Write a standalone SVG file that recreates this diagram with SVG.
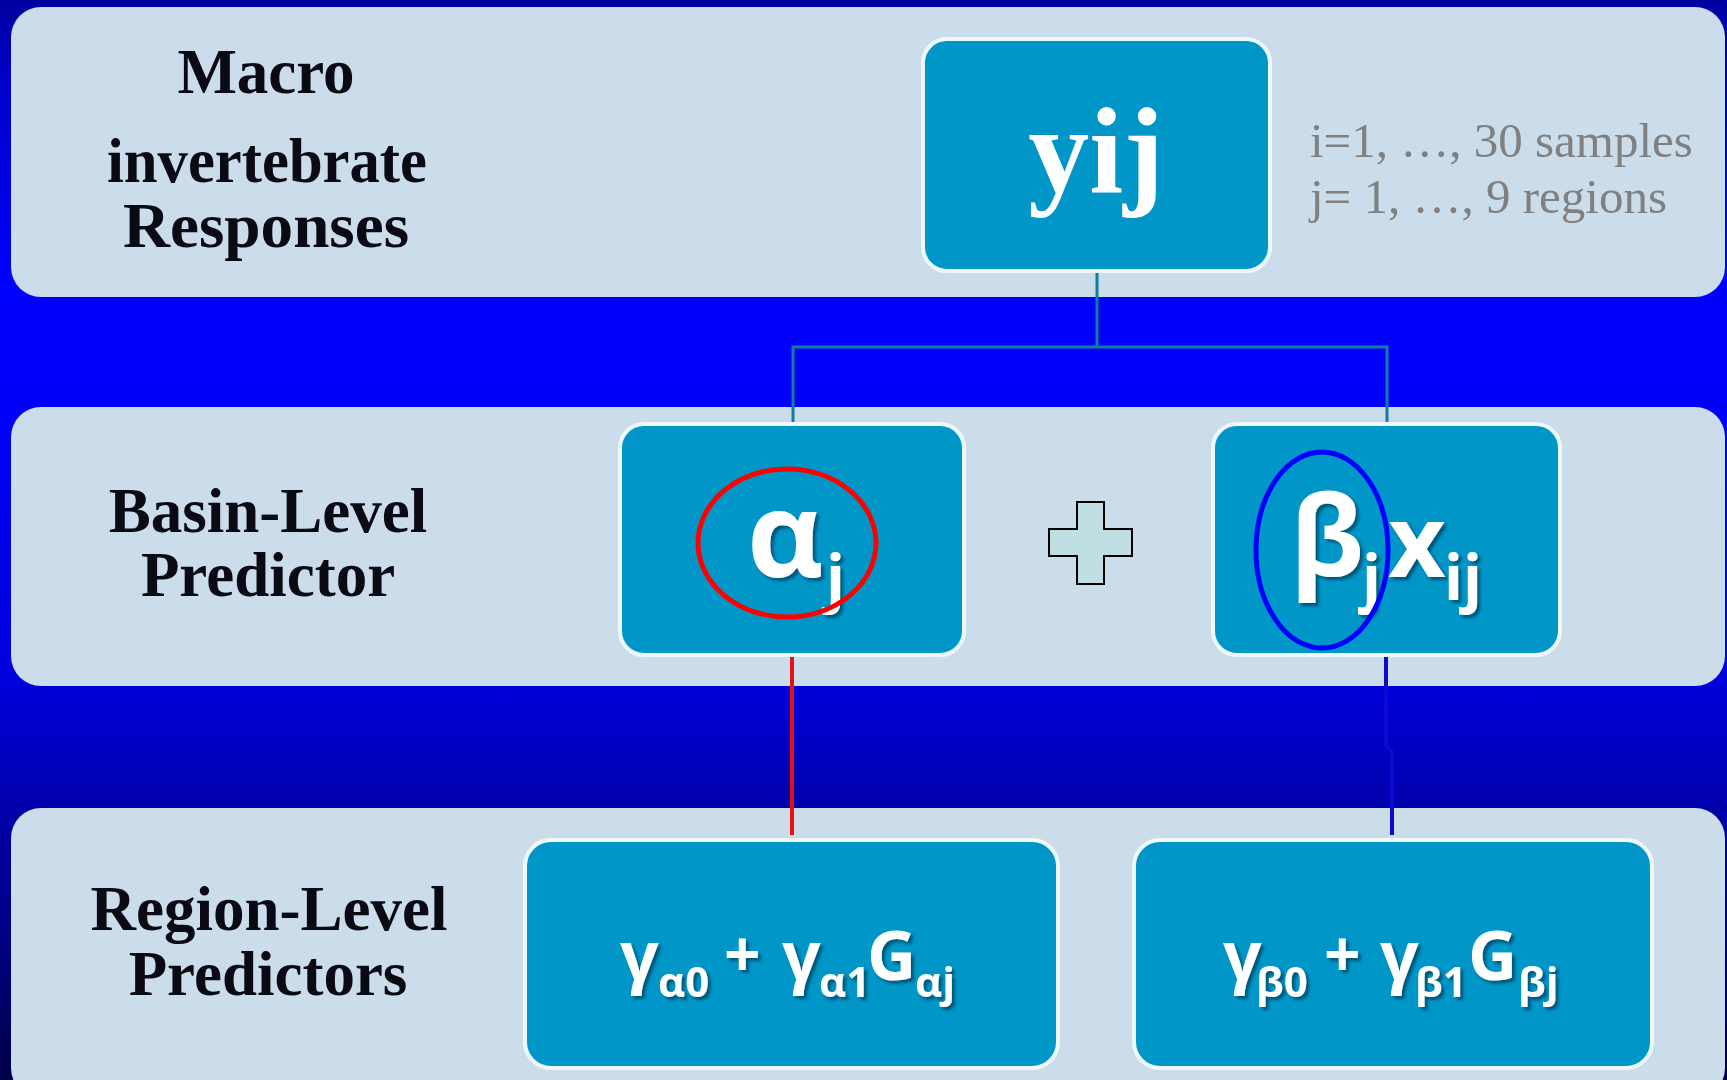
<svg xmlns="http://www.w3.org/2000/svg" width="1727" height="1080" viewBox="0 0 1727 1080">
  <defs>
    <linearGradient id="bgGrad" x1="0" y1="0" x2="0" y2="1">
      <stop offset="0" stop-color="#0000A0"/>
      <stop offset="0.07" stop-color="#0000C8"/>
      <stop offset="0.26" stop-color="#0000FF"/>
      <stop offset="0.40" stop-color="#0000F8"/>
      <stop offset="0.63" stop-color="#0000DC"/>
      <stop offset="0.75" stop-color="#0000AA"/>
      <stop offset="0.88" stop-color="#000080"/>
      <stop offset="1" stop-color="#000045"/>
    </linearGradient>
    <filter id="glyphShadow" x="-20%" y="-20%" width="140%" height="140%">
      <feDropShadow dx="3" dy="3" stdDeviation="1.5" flood-color="#002a45" flood-opacity="0.6"/>
    </filter>
  </defs>
  <style>
    .band { fill: #CBDDEA; }
    .box { fill: #0096C8; stroke: #EEF9FF; stroke-width: 4; }
    .label { font-family: "Liberation Serif", "Times New Roman", serif; font-weight: bold; font-size: 63px; fill: #0a0a14; text-anchor: middle; }
    .note { font-family: "Liberation Serif", "Times New Roman", serif; font-size: 49px; fill: #808080; }
    .sym { font-family: "Open Sans", "DejaVu Sans", sans-serif; font-weight: bold; fill: #FFFFFF; }
    .link { fill: none; stroke: #0E7FA0; stroke-width: 3; }
  </style>

  <!-- background -->
  <rect x="0" y="0" width="1727" height="1080" fill="url(#bgGrad)"/>

  <!-- level bands -->
  <g id="band-macro">
    <rect class="band" x="11" y="7" width="1714" height="290" rx="30"/>
    <text class="label" x="266" y="93">Macro</text>
    <text class="label" x="267" y="182" textLength="320" lengthAdjust="spacingAndGlyphs">invertebrate</text>
    <text class="label" x="266" y="247" textLength="286" lengthAdjust="spacingAndGlyphs">Responses</text>
    <text class="note" x="1310" y="157">i=1, …, 30 samples</text>
    <text class="note" x="1310" y="213">j= 1, …, 9 regions</text>
  </g>
  <g id="band-basin">
    <rect class="band" x="11" y="407" width="1714" height="279" rx="30"/>
    <text class="label" x="268" y="532">Basin-Level</text>
    <text class="label" x="268" y="596">Predictor</text>
  </g>
  <g id="band-region">
    <rect class="band" x="11" y="808" width="1714" height="290" rx="30"/>
    <text class="label" x="269" y="930">Region-Level</text>
    <text class="label" x="268" y="995">Predictors</text>
  </g>

  <!-- connectors -->
  <g id="connectors">
    <path class="link" d="M1097,273 V347 M793,422 V347 H1387 V422"/>
    <path d="M792,657 V835" fill="none" stroke="#E81010" stroke-width="4"/>
    <path d="M1386,657 V745 L1392,752 V835" fill="none" stroke="#0A0AD0" stroke-width="4"/>
  </g>

  <!-- response node -->
  <g id="node-yij">
    <rect class="box" x="923" y="39" width="347" height="232" rx="24"/>
    <text x="1096" y="192" font-family="Liberation Serif, Times New Roman, serif" font-weight="bold" font-size="122" fill="#FFFFFF" text-anchor="middle">yij</text>
  </g>

  <!-- basin-level nodes -->
  <g id="node-alpha">
    <rect class="box" x="620" y="424" width="344" height="231" rx="24"/>
    <g filter="url(#glyphShadow)">
      <text class="sym" x="747" y="577" font-size="118">α</text>
      <text class="sym" x="826" y="600" font-size="62">j</text>
    </g>
    <ellipse cx="787" cy="543" rx="89" ry="74" fill="none" stroke="#FF0000" stroke-width="5"/>
  </g>

  <g id="node-plus">
    <path d="M1077,502 H1104 V529 H1132 V556 H1104 V584 H1077 V556 H1049 V529 H1077 Z" fill="#BFDFE3" stroke="#000000" stroke-width="2"/>
  </g>

  <g id="node-beta">
    <rect class="box" x="1213" y="424" width="347" height="231" rx="24"/>
    <g filter="url(#glyphShadow)">
      <text class="sym" x="1290" y="576" font-size="112">β</text>
      <text class="sym" x="1362" y="600" font-size="62">j</text>
      <text class="sym" x="1388" y="577" font-size="100">x</text>
      <text class="sym" x="1444" y="600" font-size="62">ij</text>
    </g>
    <ellipse cx="1322" cy="550" rx="66" ry="98" fill="none" stroke="#0000FF" stroke-width="5"/>
  </g>

  <!-- region-level nodes -->
  <g id="node-gamma-alpha">
    <rect class="box" x="525" y="840" width="533" height="228" rx="26"/>
    <g filter="url(#glyphShadow)">
      <text class="sym" x="620" y="980" font-size="68">γ</text>
      <text class="sym" x="658" y="997" font-size="42">α0</text>
      <text class="sym" x="724" y="977" font-size="64">+</text>
      <text class="sym" x="782" y="980" font-size="68">γ</text>
      <text class="sym" x="819" y="997" font-size="42">α1</text>
      <text class="sym" x="867" y="980" font-size="68">G</text>
      <text class="sym" x="915" y="997" font-size="42">αj</text>
    </g>
  </g>
  <g id="node-gamma-beta">
    <rect class="box" x="1134" y="840" width="518" height="228" rx="26"/>
    <g filter="url(#glyphShadow)">
      <text class="sym" x="1223" y="980" font-size="68">γ</text>
      <text class="sym" x="1256" y="997" font-size="42">β0</text>
      <text class="sym" x="1324" y="977" font-size="64">+</text>
      <text class="sym" x="1380" y="980" font-size="68">γ</text>
      <text class="sym" x="1415" y="997" font-size="42">β1</text>
      <text class="sym" x="1468" y="980" font-size="68">G</text>
      <text class="sym" x="1518" y="997" font-size="42">βj</text>
    </g>
  </g>
</svg>
